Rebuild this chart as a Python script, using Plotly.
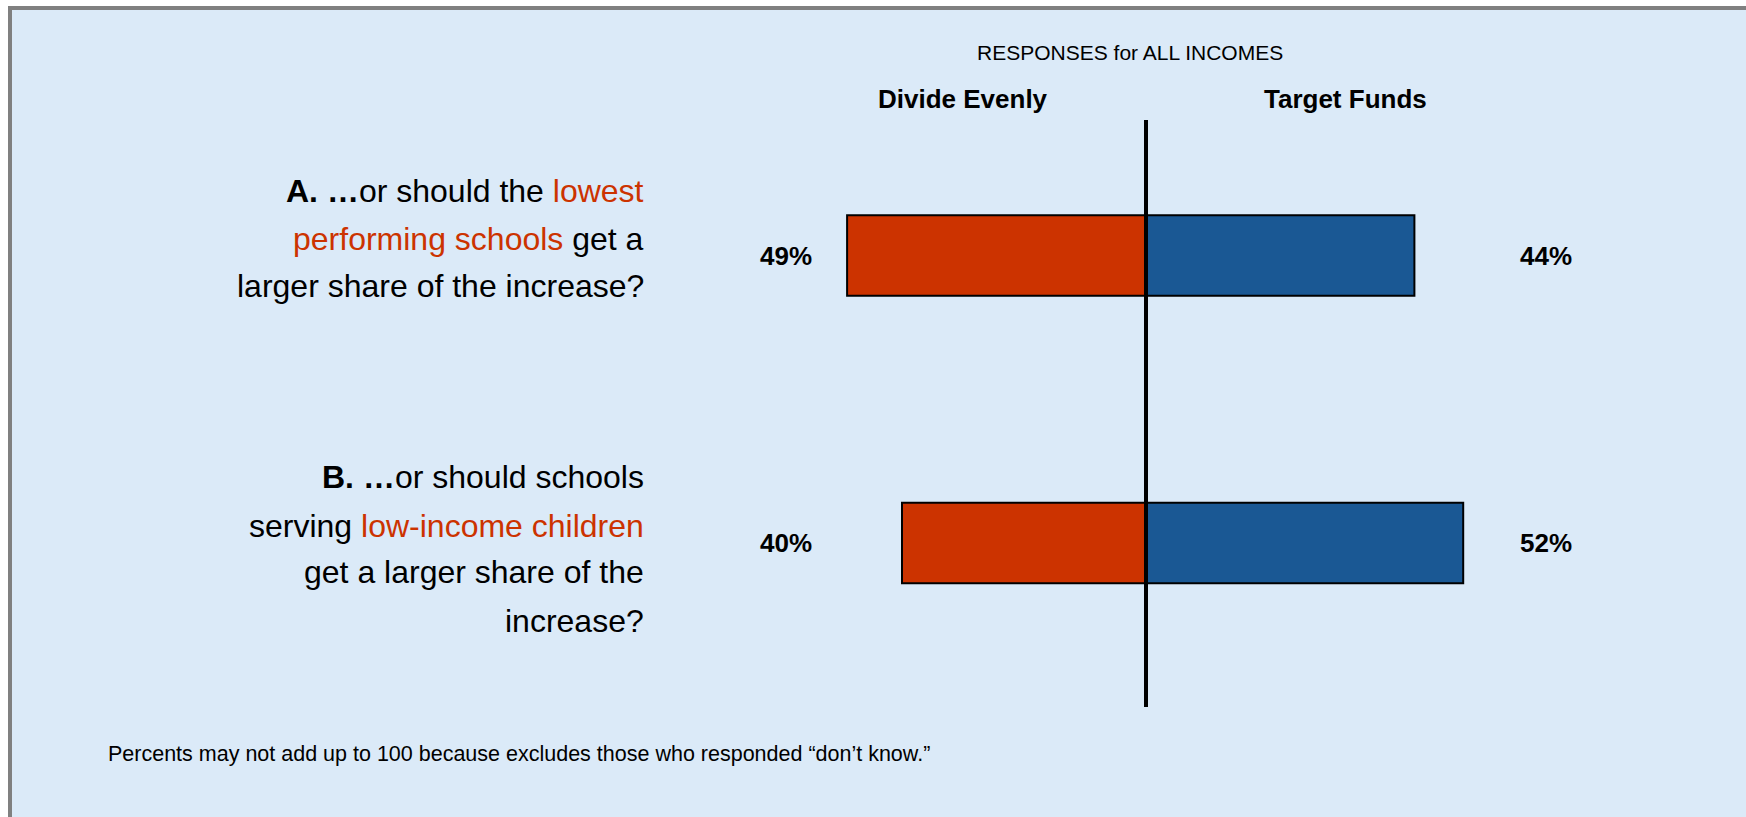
import plotly.graph_objects as go

# ---- data ----
questions = ["A", "B"]
divide_evenly = [49, 40]
target_funds = [44, 52]
side_headers = ["Divide Evenly", "Target Funds"]
chart_title = "RESPONSES for ALL INCOMES"
footnote = "Percents may not add up to 100 because excludes those who responded \u201cdon\u2019t know.\u201d"

RED = "#CC3300"
BLUE = "#1A5894"
BG = "#DBEAF8"
question_lines = [
    ["<b>A. \u2026</b>or should the <span style='color:%s'>lowest</span>" % RED,
     "<span style='color:%s'>performing schools</span> get a" % RED,
     "larger share of the increase?"],
    ["<b>B. \u2026</b>or should schools",
     "serving <span style='color:%s'>low-income children</span>" % RED,
     "get a larger share of the",
     "increase?"],
]

W, H = 1746, 817
FONT = "Liberation Sans, Arial, sans-serif"

# axis mapping (pixel geometry)
x_zero_px = 1146
px_per_pct = 6.1
x_range = [-x_zero_px / px_per_pct, (W - x_zero_px) / px_per_pct]
row_px = [255.5, 543.0]
px_per_row = row_px[1] - row_px[0]
y_top = -row_px[0] / px_per_row
y_bottom = y_top + H / px_per_row

ypos = list(range(len(questions)))

fig = go.Figure()
fig.add_trace(go.Bar(
    y=ypos, x=[-v for v in divide_evenly], orientation="h", width=0.28,
    marker=dict(color=RED, line=dict(color="black", width=2)),
    name=side_headers[0], hoverinfo="skip"))
fig.add_trace(go.Bar(
    y=ypos, x=target_funds, orientation="h", width=0.28,
    marker=dict(color=BLUE, line=dict(color="black", width=2)),
    name=side_headers[1], hoverinfo="skip"))

ann = []
# value labels
for i, (d, t) in enumerate(zip(divide_evenly, target_funds)):
    ann.append(dict(x=-59, y=i, xref="x", yref="y", text=f"<b>{d}%</b>",
                    xanchor="center", yanchor="middle",
                    showarrow=False, font=dict(size=26, color="black", family=FONT)))
    ann.append(dict(x=65.5, y=i, xref="x", yref="y", text=f"<b>{t}%</b>",
                    xanchor="center", yanchor="middle",
                    showarrow=False, font=dict(size=26, color="black", family=FONT)))

def px(xp, yp):
    return xp / W, 1 - yp / H

# title & side headers
x, y = px(1130, 52)
ann.append(dict(x=x, y=y, xref="paper", yref="paper", text=chart_title, showarrow=False,
                xanchor="center", yanchor="middle",
                font=dict(size=21, color="black", family=FONT)))
for label, cx in zip(side_headers, [963, 1345]):
    x, y = px(cx, 99)
    ann.append(dict(x=x, y=y, xref="paper", yref="paper", text=f"<b>{label}</b>", showarrow=False,
                    xanchor="center", yanchor="middle",
                    font=dict(size=26, color="black", family=FONT)))

# question text
line_centers = [[191, 239, 286], [477, 526, 572, 621]]
for lines, centers in zip(question_lines, line_centers):
    for txt, cy in zip(lines, centers):
        x, y = px(646, cy)
        ann.append(dict(x=x, y=y, xref="paper", yref="paper", text=txt, showarrow=False,
                        xanchor="right", yanchor="middle",
                        font=dict(size=32, color="black", family=FONT)))

# footnote
x, y = px(106, 754)
ann.append(dict(x=x, y=y, xref="paper", yref="paper", text=footnote, showarrow=False,
                xanchor="left", yanchor="middle", font=dict(size=21.5, color="black", family=FONT)))

shapes = [
    dict(type="rect", xref="paper", yref="paper", x0=8 / W, x1=1.01, y0=-0.01, y1=1 - 6 / H,
         fillcolor="#808080", line=dict(width=0), layer="below"),
    dict(type="rect", xref="paper", yref="paper", x0=12 / W, x1=1.01, y0=-0.01, y1=1 - 10 / H,
         fillcolor=BG, line=dict(width=0), layer="below"),
    dict(type="line", xref="x", yref="paper", x0=0, x1=0, y0=1 - 120 / H, y1=1 - 707 / H,
         line=dict(color="black", width=4)),
]

fig.update_layout(
    width=W, height=H, barmode="relative", showlegend=False,
    margin=dict(l=0, r=0, t=0, b=0, pad=0),
    paper_bgcolor="white", plot_bgcolor="rgba(0,0,0,0)",
    xaxis=dict(range=x_range, visible=False, fixedrange=True),
    yaxis=dict(range=[y_bottom, y_top], visible=False, fixedrange=True),
    annotations=ann, shapes=shapes,
    font=dict(family=FONT),
)

fig.write_html("out.html", config={"displayModeBar": False},
               post_script="document.body.style.margin='0';document.body.style.overflow='hidden';")
